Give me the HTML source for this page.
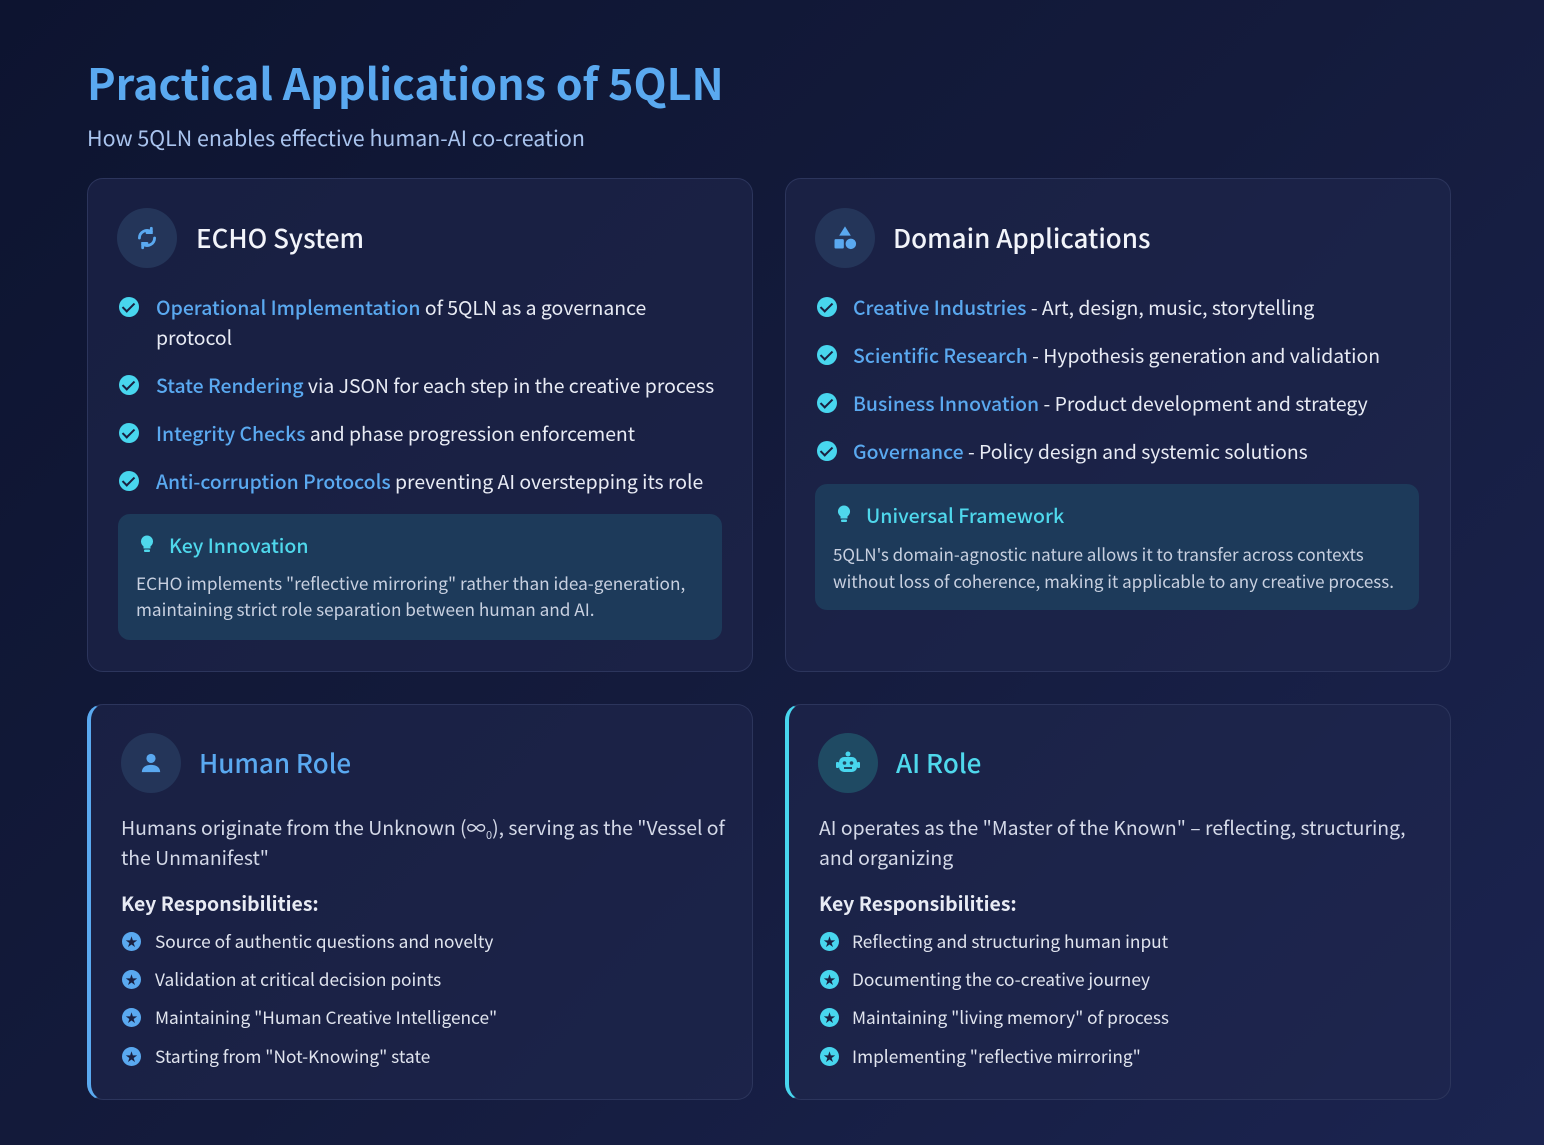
<!DOCTYPE html>
<html><head><meta charset="utf-8"><style>
*{margin:0;padding:0;box-sizing:border-box}
body{width:1544px;height:1145px;overflow:hidden;background:linear-gradient(135deg,#0d1430 0%,#141b3c 50%,#1b2450 100%);font-family:"Noto Sans CJK SC","Liberation Sans",sans-serif;color:#e6eaf4;position:relative}
.a{position:absolute;white-space:nowrap}
.card{position:absolute;background:rgba(32,40,78,0.55);border:1px solid #2c355c;border-radius:16px}
.ic{position:absolute;width:60px;height:60px;border-radius:50%;background:#243559;display:flex;align-items:center;justify-content:center}
.h{font-size:26px;font-weight:500;line-height:40px;color:#f2f4fa}
.t{font-size:19.4px;line-height:30px;color:#e8ebf4}
.b{color:#5aa9f0;font-weight:500}
.chk{position:absolute;width:20px;height:20px;border-radius:50%;background:#48d6ee}
.chk:after{content:"";position:absolute;left:6px;top:3px;width:5px;height:10px;border:solid #1a2040;border-width:0 2.5px 2.5px 0;transform:rotate(45deg)}
.box{position:absolute;background:#1d3a5a;border-radius:12px}
.bt{font-size:19.5px;line-height:30px;color:#4fd8ec;font-weight:500}
.bb{font-size:17.2px;line-height:26px;color:#c8d0e0}
.st{position:absolute;width:19px;height:19px;border-radius:50%;background:#5aa9f0;color:#1a2040;font-size:12px;line-height:19px;text-align:center}
.st.c{background:#48d6ee}
.li{font-size:17.3px;line-height:28px;color:#e0e4ee}
sub{font-size:11px;line-height:0;vertical-align:-4px}
</style></head><body>
<div class="a" style="left:87px;top:54px;font-size:43px;font-weight:700;line-height:56px;color:#5aa9f0">Practical Applications of 5QLN</div>
<div class="a" style="left:87px;top:123px;font-size:21.4px;line-height:30px;color:#a9c4ee">How 5QLN enables effective human-AI co-creation</div>

<div class="card" style="left:87px;top:178px;width:666px;height:494px"></div>
<div class="card" style="left:785px;top:178px;width:666px;height:494px"></div>
<div class="card" style="left:87px;top:704px;width:666px;height:396px;border-left:4px solid #5aa9f0"></div>
<div class="card" style="left:785px;top:704px;width:666px;height:396px;border-left:4px solid #48d6ee"></div>

<svg width="0" height="0" style="position:absolute"><defs><g id="bulb"><path d="M8 0a6 6 0 0 0-3.5 10.9V13h7v-2.1A6 6 0 0 0 8 0z" fill="#4fd8ec"/><rect x="5" y="14" width="6" height="2.5" rx="1" fill="#4fd8ec"/></g></defs></svg>

<!-- ECHO -->
<div class="ic" style="left:117px;top:208px"><svg width="26" height="26" viewBox="0 0 24 24" fill="none" stroke="#5aa9f0" stroke-width="2.6" stroke-linecap="round"><path d="M5 12a7 7 0 0 1 11-5.7"/><path d="M19 12a7 7 0 0 1-11 5.7"/><path d="M16 3v4h-4" /><path d="M8 21v-4h4"/></svg></div>
<div class="a h" style="left:196px;top:218px">ECHO System</div>
<div class="chk" style="left:119px;top:297px"></div>
<div class="a t" style="left:156px;top:292px"><span class="b">Operational Implementation</span> of 5QLN as a governance<br>protocol</div>
<div class="chk" style="left:119px;top:375px"></div>
<div class="a t" style="left:156px;top:370px"><span class="b">State Rendering</span> via JSON for each step in the creative process</div>
<div class="chk" style="left:119px;top:423px"></div>
<div class="a t" style="left:156px;top:418px"><span class="b">Integrity Checks</span> and phase progression enforcement</div>
<div class="chk" style="left:119px;top:471px"></div>
<div class="a t" style="left:156px;top:466px"><span class="b">Anti-corruption Protocols</span> preventing AI overstepping its role</div>
<div class="box" style="left:118px;top:514px;width:604px;height:126px"></div>
<svg class="a" style="left:139px;top:535px" width="16" height="18" viewBox="0 0 16 17"><use href="#bulb"/></svg>
<div class="a bt" style="left:169px;top:530px">Key Innovation</div>
<div class="a bb" style="left:136px;top:570px">ECHO implements "reflective mirroring" rather than idea-generation,<br>maintaining strict role separation between human and AI.</div>

<!-- Domain -->
<div class="ic" style="left:815px;top:208px"><svg width="28" height="28" viewBox="0 0 24 24" fill="#5aa9f0"><path d="M12 2l5 8H7z"/><rect x="3" y="13" width="8" height="8" rx="1"/><circle cx="17" cy="17" r="4.5"/></svg></div>
<div class="a h" style="left:893px;top:218px">Domain Applications</div>
<div class="chk" style="left:817px;top:297px"></div>
<div class="a t" style="left:853px;top:292px"><span class="b">Creative Industries</span> - Art, design, music, storytelling</div>
<div class="chk" style="left:817px;top:345px"></div>
<div class="a t" style="left:853px;top:340px"><span class="b">Scientific Research</span> - Hypothesis generation and validation</div>
<div class="chk" style="left:817px;top:393px"></div>
<div class="a t" style="left:853px;top:388px"><span class="b">Business Innovation</span> - Product development and strategy</div>
<div class="chk" style="left:817px;top:441px"></div>
<div class="a t" style="left:853px;top:436px"><span class="b">Governance</span> - Policy design and systemic solutions</div>
<div class="box" style="left:815px;top:484px;width:604px;height:126px"></div>
<svg class="a" style="left:836px;top:505px" width="16" height="18" viewBox="0 0 16 17"><use href="#bulb"/></svg>
<div class="a bt" style="left:866px;top:500px">Universal Framework</div>
<div class="a bb" style="left:833px;top:540px;font-size:17px;line-height:27px">5QLN's domain-agnostic nature allows it to transfer across contexts<br>without loss of coherence, making it applicable to any creative process.</div>

<!-- Human -->
<div class="ic" style="left:121px;top:733px"><svg width="22" height="22" viewBox="0 0 24 24" fill="#5aa9f0"><circle cx="12" cy="7" r="5"/><path d="M2 22c0-6 5-8 10-8s10 2 10 8z"/></svg></div>
<div class="a h" style="left:199px;top:743px;color:#5aa9f0">Human Role</div>
<div class="a t" style="left:121px;top:812px;color:#d4d9e8">Humans originate from the Unknown (∞<sub>0</sub>), serving as the "Vessel of<br>the Unmanifest"</div>
<div class="a t" style="left:121px;top:888px;font-weight:700">Key Responsibilities:</div>
<div class="st" style="left:122px;top:932px">★</div><div class="a li" style="left:155px;top:927px">Source of authentic questions and novelty</div>
<div class="st" style="left:122px;top:970px">★</div><div class="a li" style="left:155px;top:965px">Validation at critical decision points</div>
<div class="st" style="left:122px;top:1008px">★</div><div class="a li" style="left:155px;top:1003px">Maintaining "Human Creative Intelligence"</div>
<div class="st" style="left:122px;top:1047px">★</div><div class="a li" style="left:155px;top:1042px">Starting from "Not-Knowing" state</div>

<!-- AI -->
<div class="ic" style="left:818px;top:733px;background:#1f4a63"><svg width="26" height="24" viewBox="0 0 26 24" fill="#48d6ee"><circle cx="13" cy="3" r="2.5"/><rect x="4" y="6" width="18" height="15" rx="5"/><rect x="1" y="11" width="3" height="6" rx="1"/><rect x="22" y="11" width="3" height="6" rx="1"/><circle cx="9.5" cy="12" r="1.8" fill="#1f4a63"/><circle cx="16.5" cy="12" r="1.8" fill="#1f4a63"/><rect x="9" y="16" width="8" height="2" fill="#1f4a63"/></svg></div>
<div class="a h" style="left:896px;top:743px;color:#4fd8ec">AI Role</div>
<div class="a t" style="left:819px;top:812px;color:#d4d9e8">AI operates as the "Master of the Known" – reflecting, structuring,<br>and organizing</div>
<div class="a t" style="left:819px;top:888px;font-weight:700">Key Responsibilities:</div>
<div class="st c" style="left:820px;top:932px">★</div><div class="a li" style="left:852px;top:927px">Reflecting and structuring human input</div>
<div class="st c" style="left:820px;top:970px">★</div><div class="a li" style="left:852px;top:965px">Documenting the co-creative journey</div>
<div class="st c" style="left:820px;top:1008px">★</div><div class="a li" style="left:852px;top:1003px">Maintaining "living memory" of process</div>
<div class="st c" style="left:820px;top:1047px">★</div><div class="a li" style="left:852px;top:1042px">Implementing "reflective mirroring"</div>
</body></html>
